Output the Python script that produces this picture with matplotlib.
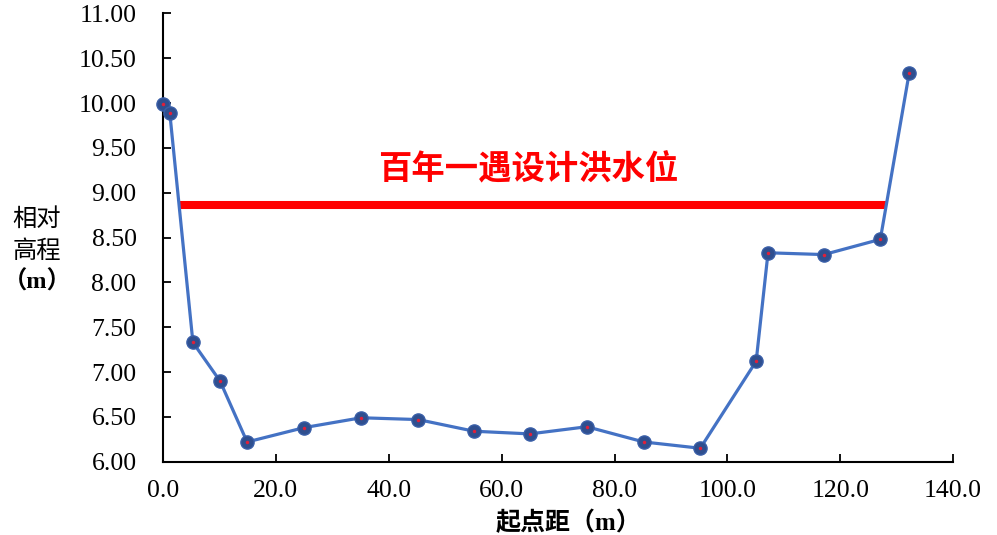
import matplotlib
matplotlib.use("Agg")
import matplotlib.pyplot as plt
import numpy as np

# Data
distance = [0.0, 1.2, 5.3, 10.1, 14.9, 25.0, 35.1, 45.2, 55.1, 65.0, 75.1, 85.2, 95.2, 105.1, 107.2, 117.1, 127.1, 132.2]
elevation = [9.99, 9.89, 7.33, 6.90, 6.22, 6.38, 6.49, 6.47, 6.34, 6.31, 6.39, 6.22, 6.15, 7.12, 8.33, 8.31, 8.48, 10.33]
flood_x = [3.0, 128.2]
flood_y = [8.86, 8.86]
flood_label = "百年一遇设计洪水位"
xticks = [0, 20, 40, 60, 80, 100, 120, 140]
yticks = [6.0, 6.5, 7.0, 7.5, 8.0, 8.5, 9.0, 9.5, 10.0, 10.5, 11.0]

serif = ["Liberation Serif", "DejaVu Serif"]
cjk = ["Noto Sans CJK SC", "DejaVu Sans"]
mixed = ["Liberation Serif", "Noto Sans CJK SC", "DejaVu Sans"]

fig = plt.figure(figsize=(9.97, 5.35), dpi=100)
ax = fig.add_axes([0.1635, 0.137, 0.7925, 0.838])

ax.plot(flood_x, flood_y, color="#FF0000", lw=5.8, solid_capstyle="butt", zorder=2)
ax.plot(distance, elevation, color="#4472C4", lw=2.3, zorder=3, clip_on=False,
        marker="o", markersize=9.5, markerfacecolor="#2F4F8F", markeredgecolor="#3A5FA8",
        markeredgewidth=1)
ax.plot(distance, elevation, ls="none", marker="o", markersize=2.5, clip_on=False,
        markerfacecolor="#E0203A", markeredgecolor="none", zorder=4)

ax.text(64.7, 9.25, flood_label, color="#FF0000", fontsize=24, fontweight="bold",
        family=cjk, ha="center", va="center")

ax.set_xlim(0, 140)
ax.set_ylim(6, 11)
for s in ["top", "right"]:
    ax.spines[s].set_visible(False)
for s in ["left", "bottom"]:
    ax.spines[s].set_linewidth(1.5)
ax.set_xticks(xticks)
ax.set_yticks(yticks)
ax.set_xticklabels([f"{v:.1f}" for v in xticks], family=serif, fontsize=18.5)
ax.set_yticklabels([f"{v:.2f}" for v in yticks], family=serif, fontsize=18.5)
ax.tick_params(direction="in", length=6, width=1.3, colors="black")
ax.tick_params(axis="x", pad=13)
ax.tick_params(axis="y", pad=19)

fig.text(0.037, 0.561, "相对\n高程", family=cjk, fontsize=17.5, fontweight="normal",
         ha="center", va="center", linespacing=1.3)
fig.text(0.037, 0.473, "（m）", family=mixed, fontsize=17.5, fontweight="bold",
         ha="center", va="center")
fig.text(0.570, 0.023, "起点距（m）", family=mixed, fontsize=18, fontweight="bold",
         ha="center", va="center")

fig.savefig("out.png", dpi=100)
